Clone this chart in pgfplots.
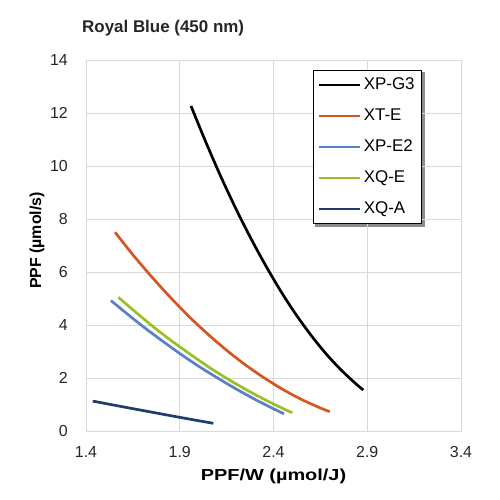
\documentclass[border=0pt]{standalone}
\usepackage{fontspec}
\setmainfont{Liberation Sans}
\usepackage{graphicx}
\usepackage{pgfplots}
\pgfplotsset{compat=1.18}
\pgfdeclarelayer{background}
\pgfsetlayers{background,main}
\definecolor{cXPG}{RGB}{0,0,0}
\definecolor{cXTE}{RGB}{212,86,34}
\definecolor{cXPE}{RGB}{92,128,196}
\definecolor{cXQE}{RGB}{155,192,38}
\definecolor{cXQA}{RGB}{32,60,108}
\definecolor{gridc}{RGB}{217,217,217}
\begin{document}
\begin{tikzpicture}
\useasboundingbox (0,0) rectangle (500bp,500bp);
\begin{axis}[
  at={(86bp,69bp)}, anchor=south west,
  scale only axis, width=375bp, height=370.5bp,
  xmin=1.4, xmax=3.4, ymin=0, ymax=14,
  xtick={1.4,1.9,2.4,2.9,3.4},
  xticklabels={1.4,1.9,2.4,2.9,3.4},
  ytick={0,2,4,6,8,10,12,14},
  yticklabels={0,2,4,6,8,10,12,14},
  major tick length=0pt,
  grid=major,
  major grid style={draw=gridc, line width=0.9bp},
  axis line style={draw=gridc, line width=0.9bp},
  tick label style={font=\fontsize{16}{19}\selectfont, text=black!85},
  yticklabel style={anchor=east, inner sep=0pt, xshift=-18bp},
  xticklabel style={anchor=north, inner sep=0pt, yshift=-15.5bp},
  xlabel={\scalebox{1.25}[1]{\bfseries PPF/W (µmol/J)}},
  ylabel={\bfseries PPF (µmol/s)},
  label style={font=\fontsize{16}{19}\selectfont},
  xlabel style={at={(rel axis cs:0.5,0)}, anchor=base, inner sep=0pt, yshift=-49bp},
  ylabel style={at={(rel axis cs:0,0.514)}, anchor=base, inner sep=0pt, yshift=45bp},
  legend style={at={(0.6045,0.9744)}, anchor=north west, name=leg,
    draw=black, line width=0.8bp, fill=white,
    inner sep=5bp, row sep=11.5bp,
    font=\fontsize{17}{19}\selectfont,
    nodes={inner sep=2bp, text height=12bp, text depth=3.5bp}},
  legend cell align=left,
  legend image code/.code={\draw[#1] (0bp,0bp) -- (41bp,0bp);},
  every axis plot/.append style={line width=2.7bp, smooth, no markers},
]
\addplot[cXPG] coordinates {(1.96,12.28) (2.04,10.90) (2.12,9.60) (2.20,8.39) (2.28,7.27) (2.36,6.23) (2.44,5.27) (2.52,4.40) (2.60,3.62) (2.68,2.92) (2.76,2.31) (2.84,1.78) (2.879,1.55)};
\addlegendentry{XP-G3}
\addplot[cXTE] coordinates {(1.555,7.51) (1.65,6.66) (1.75,5.83) (1.85,5.05) (1.95,4.32) (2.05,3.66) (2.15,3.05) (2.25,2.50) (2.35,2.01) (2.45,1.57) (2.55,1.19) (2.65,0.87) (2.70,0.73)};
\addlegendentry{XT-E}
\addplot[cXPE] coordinates {(1.533,4.93) (1.6,4.54) (1.7,3.97) (1.8,3.44) (1.9,2.93) (2.0,2.45) (2.1,2.01) (2.2,1.59) (2.3,1.20) (2.4,0.84) (2.456,0.65)};
\addlegendentry{XP-E2}
\addplot[cXQE] coordinates {(1.573,5.05) (1.65,4.58) (1.75,3.99) (1.85,3.44) (1.95,2.93) (2.05,2.44) (2.15,1.99) (2.25,1.58) (2.35,1.20) (2.45,0.85) (2.5,0.69)};
\addlegendentry{XQ-E}
\addplot[cXQA] coordinates {(1.436,1.13) (1.6,0.91) (1.76,0.70) (1.92,0.49) (2.079,0.29)};
\addlegendentry{XQ-A}
\end{axis}
\begin{pgfonlayer}{background}
\fill[black!45] ([shift={(2.5bp,-2.5bp)}]leg.south west) rectangle ([shift={(2.5bp,-2.5bp)}]leg.north east);
\end{pgfonlayer}
\node[anchor=base west, inner sep=0pt, font=\fontsize{17}{20}\selectfont\bfseries, text=black!85] at (82bp,467bp) {Royal Blue (450 nm)};
\end{tikzpicture}
\end{document}
